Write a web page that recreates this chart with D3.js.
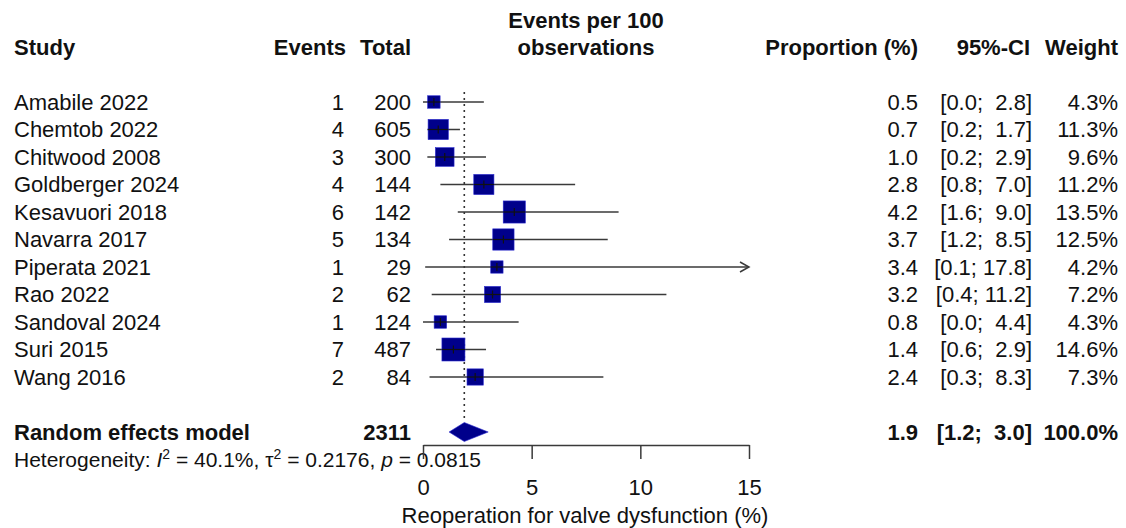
<!DOCTYPE html>
<html>
<head>
<meta charset="utf-8">
<script src="https://cdn.jsdelivr.net/npm/d3@7"></script>
<style>
  html, body { margin: 0; padding: 0; background: #fff; }
  svg { display: block; }
  text { font-family: "Liberation Sans", Arial, sans-serif; fill: #111; }
</style>
</head>
<body>
<svg id="chart" width="1126" height="528"></svg>
<script>
// ---- data ----
const studies   = ["Amabile 2022","Chemtob 2022","Chitwood 2008","Goldberger 2024","Kesavuori 2018","Navarra 2017","Piperata 2021","Rao 2022","Sandoval 2024","Suri 2015","Wang 2016"];
const events    = [1, 4, 3, 4, 6, 5, 1, 2, 1, 7, 2];
const totals    = [200, 605, 300, 144, 142, 134, 29, 62, 124, 487, 84];
const props     = [0.5, 0.7, 1.0, 2.8, 4.2, 3.7, 3.4, 3.2, 0.8, 1.4, 2.4];
const ciLower   = [0.0, 0.2, 0.2, 0.8, 1.6, 1.2, 0.1, 0.4, 0.0, 0.6, 0.3];
const ciUpper   = [2.8, 1.7, 2.9, 7.0, 9.0, 8.5, 17.8, 11.2, 4.4, 2.9, 8.3];
const weights   = [4.3, 11.3, 9.6, 11.2, 13.5, 12.5, 4.2, 7.2, 4.3, 14.6, 7.3];
const pooled    = {label: "Random effects model", total: 2311, est: 1.9, lo: 1.2, hi: 3.0, weight: 100.0};
const xTicks    = [0, 5, 10, 15];
const hetero    = {I2: "40.1%", tau2: "0.2176", p: "0.0815"};
const xTitle    = "Reoperation for valve dysfunction (%)";

const rows = studies.map((s, i) => ({study: s, ev: events[i], n: totals[i], p: props[i], lo: ciLower[i], hi: ciUpper[i], w: weights[i]}));

// ---- layout ----
const svg = d3.select("#chart");
const FS = 22;
const x = d3.scaleLinear().domain([0, 15]).range([423, 749]);
const y = d3.scalePoint().domain(studies).range([102, 377]);
const ySum = 432;
const boxSize = d3.scaleSqrt().domain([0, 14.6]).range([0, 23]);
const navy = "#00008B";
const lineCol = "#3a3a3a";

const fmt1 = d3.format(".1f");
const ciText = (lo, hi) => {
  const l = fmt1(lo), h = fmt1(hi);
  return "[" + l + ";" + (h.length < 4 ? "  " : " ") + h + "]";
};

// headers
const hdr = svg.append("g").attr("font-weight", "bold").style("font-size", FS + "px");
hdr.append("text").attr("x", 14).attr("y", 55).text("Study");
hdr.append("text").attr("x", 346).attr("y", 55).attr("text-anchor", "end").text("Events");
hdr.append("text").attr("x", 411).attr("y", 55).attr("text-anchor", "end").text("Total");
hdr.append("text").attr("x", 586).attr("y", 28).attr("text-anchor", "middle").text("Events per 100");
hdr.append("text").attr("x", 586).attr("y", 55).attr("text-anchor", "middle").text("observations");
hdr.append("text").attr("x", 918).attr("y", 55).attr("text-anchor", "end").text("Proportion (%)");
hdr.append("text").attr("x", 1030).attr("y", 55).attr("text-anchor", "end").text("95%-CI");
hdr.append("text").attr("x", 1118).attr("y", 55).attr("text-anchor", "end").text("Weight");

// reference dotted line at pooled estimate
svg.append("line")
  .attr("x1", x(pooled.est)).attr("x2", x(pooled.est))
  .attr("y1", 92).attr("y2", 421)
  .attr("stroke", "#333").attr("stroke-width", 1.6)
  .attr("stroke-dasharray", "2,4");

// study rows
const g = svg.append("g").style("font-size", FS + "px");
const rg = g.selectAll("g.row").data(rows).join("g").attr("class", "row");
rg.append("text").attr("x", 14).attr("y", d => y(d.study)).attr("dy", "0.36em").text(d => d.study);
rg.append("text").attr("x", 344).attr("y", d => y(d.study)).attr("dy", "0.36em").attr("text-anchor", "end").text(d => d.ev);
rg.append("text").attr("x", 411).attr("y", d => y(d.study)).attr("dy", "0.36em").attr("text-anchor", "end").text(d => d.n);
rg.append("text").attr("x", 918).attr("y", d => y(d.study)).attr("dy", "0.36em").attr("text-anchor", "end").text(d => fmt1(d.p));
rg.append("text").attr("x", 1032).attr("y", d => y(d.study)).attr("dy", "0.36em").attr("text-anchor", "end")
  .attr("xml:space", "preserve").style("white-space", "pre").text(d => ciText(d.lo, d.hi));
rg.append("text").attr("x", 1118).attr("y", d => y(d.study)).attr("dy", "0.36em").attr("text-anchor", "end").text(d => fmt1(d.w) + "%");

// CI lines
rg.append("line")
  .attr("x1", d => x(Math.max(0, d.lo))).attr("x2", d => x(Math.min(15, d.hi)))
  .attr("y1", d => y(d.study)).attr("y2", d => y(d.study))
  .attr("stroke", lineCol).attr("stroke-width", 1.5);
// arrow where CI exceeds axis
rg.filter(d => d.hi > 15).append("path")
  .attr("d", d => { const xe = x(15), yy = y(d.study); return `M${xe - 9},${yy - 5} L${xe},${yy} L${xe - 9},${yy + 5}`; })
  .attr("fill", "none").attr("stroke", lineCol).attr("stroke-width", 1.5);
// boxes
rg.append("rect")
  .attr("x", d => x(d.p) - boxSize(d.w) / 2).attr("y", d => y(d.study) - boxSize(d.w) / 2)
  .attr("width", d => boxSize(d.w)).attr("height", d => boxSize(d.w))
  .attr("fill", navy).attr("stroke", "#2a2ad0").attr("stroke-width", 0.6);
// inner CI line + tick
rg.append("line")
  .attr("x1", d => x(d.p) - boxSize(d.w) / 2).attr("x2", d => x(d.p) + boxSize(d.w) / 2)
  .attr("y1", d => y(d.study)).attr("y2", d => y(d.study))
  .attr("stroke", "#111").attr("stroke-width", 1.2);
rg.append("line")
  .attr("x1", d => x(d.p)).attr("x2", d => x(d.p))
  .attr("y1", d => y(d.study) - 4).attr("y2", d => y(d.study) + 4)
  .attr("stroke", "#111").attr("stroke-width", 1.2);

// pooled row
const sg = svg.append("g").style("font-size", FS + "px").attr("font-weight", "bold");
sg.append("text").attr("x", 14).attr("y", ySum).attr("dy", "0.36em").text(pooled.label);
sg.append("text").attr("x", 411).attr("y", ySum).attr("dy", "0.36em").attr("text-anchor", "end").text(pooled.total);
sg.append("text").attr("x", 918).attr("y", ySum).attr("dy", "0.36em").attr("text-anchor", "end").text(fmt1(pooled.est));
sg.append("text").attr("x", 1032).attr("y", ySum).attr("dy", "0.36em").attr("text-anchor", "end")
  .attr("xml:space", "preserve").style("white-space", "pre").text(ciText(pooled.lo, pooled.hi));
sg.append("text").attr("x", 1118).attr("y", ySum).attr("dy", "0.36em").attr("text-anchor", "end").text(fmt1(pooled.weight) + "%");
svg.append("path")
  .attr("d", `M${x(pooled.lo)},${ySum} L${x(pooled.est)},${ySum - 9.5} L${x(pooled.hi)},${ySum} L${x(pooled.est)},${ySum + 9.5} Z`)
  .attr("fill", navy).attr("stroke", "#2a2ad0").attr("stroke-width", 0.6);

// heterogeneity
const ht = svg.append("text").attr("x", 14).attr("y", 467).style("font-size", "21px");
ht.append("tspan").text("Heterogeneity: ");
ht.append("tspan").attr("font-style", "italic").text("I");
ht.append("tspan").attr("dy", -8).style("font-size", "14px").text("2");
ht.append("tspan").attr("dy", 8).text(" = " + hetero.I2 + ", \u03C4");
ht.append("tspan").attr("dy", -8).style("font-size", "14px").text("2");
ht.append("tspan").attr("dy", 8).text(" = " + hetero.tau2 + ", ");
ht.append("tspan").attr("font-style", "italic").text("p");
ht.append("tspan").text(" = " + hetero.p);

// x axis
const axis = d3.axisBottom(x).tickValues(xTicks).tickFormat(d3.format("d")).tickSize(14).tickSizeOuter(0).tickPadding(20);
const ag = svg.append("g").attr("transform", "translate(0,445)").call(axis);
ag.select(".domain").attr("stroke", lineCol).attr("stroke-width", 1.5);
ag.selectAll(".tick line").attr("stroke", lineCol).attr("stroke-width", 1.5);
ag.selectAll(".tick text").style("font-size", FS + "px").attr("font-family", "Liberation Sans, Arial, sans-serif").attr("fill", "#111");
svg.append("text").attr("x", 585).attr("y", 523).attr("text-anchor", "middle").style("font-size", FS + "px").text(xTitle);
</script>
</body>
</html>
